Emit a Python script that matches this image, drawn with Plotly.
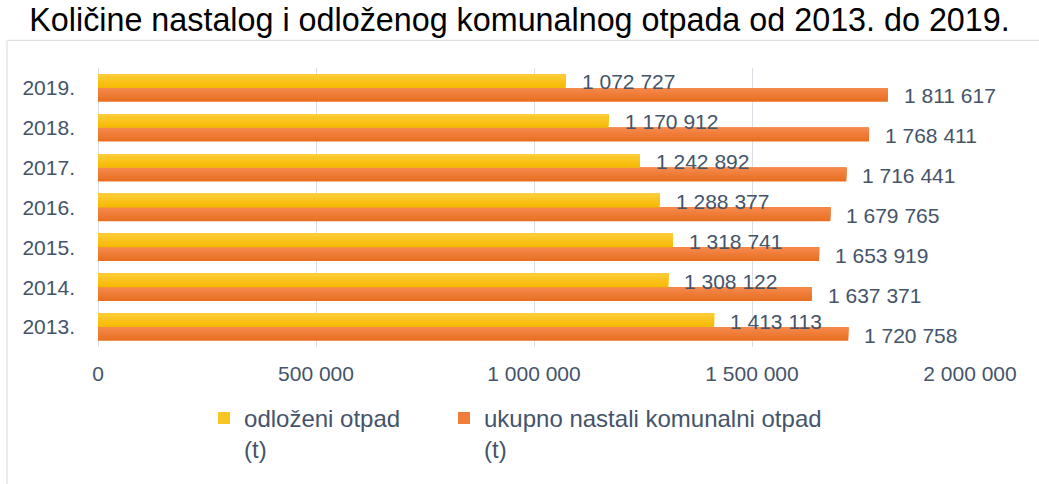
import plotly.graph_objects as go

years = [2013, 2014, 2015, 2016, 2017, 2018, 2019]
year_labels = ["2013.", "2014.", "2015.", "2016.", "2017.", "2018.", "2019."]
odlozeni = [1413113, 1308122, 1318741, 1288377, 1242892, 1170912, 1072727]
ukupno = [1720758, 1637371, 1653919, 1679765, 1716441, 1768411, 1811617]
x_ticks = [0, 500000, 1000000, 1500000, 2000000]

FONT = "Liberation Sans, Arial, sans-serif"
TXT = "#44546A"
# gradient end colours (top, bottom)
YEL_TOP, YEL_BOT = (255, 206, 58), (244, 184, 0)
ORA_TOP, ORA_BOT = (245, 138, 78), (232, 110, 30)
N_STRIPES = 6
BAR_W = 0.345

def fmt(v):
    return f"{v:,}".replace(",", " ")

def mix(c1, c2, t):
    return "rgb(%d,%d,%d)" % tuple(round(a + (b - a) * t) for a, b in zip(c1, c2))

fig = go.Figure()

def add_gradient_bar(values, name, top, bot, base_offset, legend, rank):
    sw = BAR_W / N_STRIPES
    for i in range(N_STRIPES):
        # stripe i starts i stripes above the bar bottom and runs to the bar top,
        # later (higher) stripes are drawn over earlier ones -> no seams
        t = 1 - (i + 0.5) / N_STRIPES
        fig.add_trace(go.Bar(
            y=years, x=values, orientation="h", name=name,
            offset=base_offset + i * sw, width=BAR_W - i * sw,
            marker=dict(color=mix(top, bot, t), line=dict(width=0)),
            legend=legend, legendgroup=name, showlegend=(i == N_STRIPES // 2),
            legendrank=rank, hoverinfo="x+y",
        ))

add_gradient_bar(ukupno, "ukupno nastali komunalni otpad<br>(t)", ORA_TOP, ORA_BOT,
                 -BAR_W, "legend2", 2)
add_gradient_bar(odlozeni, "odloženi otpad<br>(t)", YEL_TOP, YEL_BOT, 0.0, "legend", 1)

annotations = []
for yv, v in zip(years, odlozeni):
    annotations.append(dict(x=v, y=yv, xref="x", yref="y", text=fmt(v), showarrow=False,
                            xanchor="left", yanchor="middle", xshift=14, yshift=6,
                            font=dict(family=FONT, size=21, color=TXT)))
for yv, v in zip(years, ukupno):
    annotations.append(dict(x=v, y=yv, xref="x", yref="y", text=fmt(v), showarrow=False,
                            xanchor="left", yanchor="middle", xshift=14, yshift=-8,
                            font=dict(family=FONT, size=21, color=TXT)))

legend_common = dict(orientation="h", yanchor="top", y=-0.175, valign="top",
                     font=dict(family=FONT, size=24, color=TXT), itemwidth=30,
                     bgcolor="rgba(0,0,0,0)")

fig.update_layout(
    width=1039, height=484,
    margin=dict(l=98, r=69, t=68, b=134),
    paper_bgcolor="white", plot_bgcolor="white",
    separators=". ",
    barmode="overlay", showlegend=True,
    font=dict(family=FONT, size=21, color=TXT),
    title=dict(text="Količine nastalog i odloženog komunalnog otpada od 2013. do 2019.",
               x=0.5, xref="container", xanchor="center", y=1 - 20 / 484, yref="container",
               yanchor="middle", font=dict(family=FONT, size=32.3, color="black")),
    xaxis=dict(range=[0, 2000000], tickvals=x_ticks, tickformat=",", showgrid=True,
               gridcolor="#D9DEE5", gridwidth=1, zeroline=True, zerolinecolor="#D9DEE5",
               zerolinewidth=1, showline=False, ticks="", ticklabelstandoff=12,
               tickfont=dict(family=FONT, size=21, color=TXT)),
    yaxis=dict(type="linear", range=[2012.5, 2019.5], tickvals=years, ticktext=year_labels,
               showgrid=False, showline=False, zeroline=False, ticks="", ticklabelstandoff=22,
               tickfont=dict(family=FONT, size=21, color=TXT)),
    legend=dict(legend_common, x=0.1216, xanchor="left"),
    legend2=dict(legend_common, x=0.3968, xanchor="left"),
    annotations=annotations,
    shapes=[
        dict(type="line", xref="paper", yref="paper", x0=(7 - 98) / 872, x1=1.2,
             y0=(350 - 40) / 282, y1=(350 - 40) / 282, line=dict(color="#D9D9D9", width=1)),
        dict(type="line", xref="paper", yref="paper", x0=(7 - 98) / 872, x1=(7 - 98) / 872,
             y0=(350 - 40) / 282, y1=-0.6, line=dict(color="#D9D9D9", width=1)),
    ],
)

fig.write_html("out.html", config={"displayModeBar": False},
               post_script="document.body.style.margin='0';")
